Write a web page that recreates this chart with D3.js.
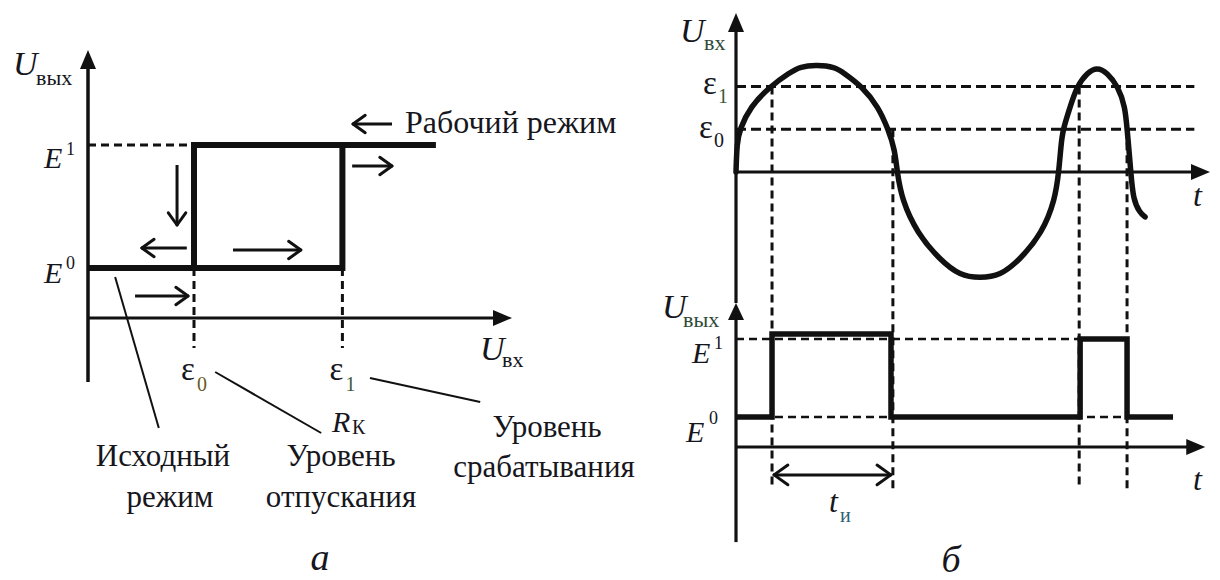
<!DOCTYPE html>
<html>
<head>
<meta charset="utf-8">
<script src="https://cdn.jsdelivr.net/npm/d3@7"></script>
<style>
  html, body { margin: 0; background: #fff; }
  svg { display: block; }
</style>
</head>
<body>
<svg id="fig" width="1220" height="580"></svg>
<script>
// ---------- Panel а: relay (hysteresis) characteristic ----------
// input thresholds ε0 (release) and ε1 (operate), arbitrary input units
const thresholdNames = ["0", "1"];
const thresholdValues = [25, 60];
// output levels E0 and E1
const levelNames = ["0", "1"];
const levelValues = [1, 3.46];
// right end of the upper branch
const upperBranchEnd = 82;
// direction arrows along the loop: [x1, y1, x2, y2]
const motionArrows = [
  [21, 3.06, 21, 1.86],
  [23.3, 1.4, 12.7, 1.4],
  [34.2, 1.36, 50.2, 1.36],
  [11.1, 0.44, 23.6, 0.44],
  [62.3, 3.04, 71.7, 3.04],
  [71.7, 3.88, 62.5, 3.88]
];
// callout leaders to the captions
const calloutLines = [
  [6.4, 0.82, 16.7, -2.2],
  [30, -1.08, 55, -2.3],
  [66.5, -1.2, 92.5, -1.68]
];

// ---------- Panel б: input signal and output pulses ----------
const waveT = [0, 0.02, 0.08, 0.30, 0.72, 1.14, 1.35, 1.71, 2.09, 2.26, 2.66, 3.00, 3.21, 3.35, 3.40,
               3.50, 3.82, 4.30, 4.73, 5.15, 5.57, 5.99, 6.46, 6.73, 6.81,
               6.86, 6.90, 7.05, 7.19, 7.41, 7.62, 7.83, 8.06, 8.21, 8.25, 8.29, 8.33,
               8.38, 8.52, 8.63];
const waveU = [0, 0.27, 0.40, 0.61, 0.80, 0.93, 0.985, 1.00, 0.98, 0.93, 0.80, 0.61, 0.40, 0.21, 0,
               -0.26, -0.57, -0.82, -0.97, -0.99, -0.97, -0.82, -0.57, -0.26, 0,
               0.27, 0.40, 0.61, 0.80, 0.93, 0.98, 0.93, 0.80, 0.61, 0.40, 0.21, 0,
               -0.26, -0.38, -0.42];
const epsNames = ["0", "1"];
const epsValues = [0.40, 0.80];
// switching instants and the threshold that triggers each
const switchTimes = [0.76, 3.31, 7.24, 8.25];
const switchLevel = [1, 0, 1, 0];      // index into epsValues
// output signal (step polyline)
const outT = [0, 0.76, 0.76, 3.27, 3.27, 7.26, 7.26, 8.25, 8.25, 9.22];
const outV = [1, 1, 3.77, 3.77, 1, 1, 3.6, 3.6, 1, 1];
const outLevelNames = ["0", "1"];
const outLevelValues = [1, 3.6];

const INK = "#111";
const FONT = "'Liberation Serif', Tinos, 'DejaVu Serif', 'Noto Serif', 'Times New Roman', serif";
const svg = d3.select("#fig");

// ---------- helpers ----------
function filledArrow(g, x, y, dir, len, half) {
  let p;
  if (dir === "up") p = [[x, y], [x - half, y + len], [x + half, y + len]];
  else p = [[x, y], [x - len, y - half], [x - len, y + half]];
  g.append("path").attr("d", "M" + p.map(q => q.join(",")).join("L") + "Z").attr("fill", INK);
}
function openHead(g, x1, y1, x2, y2, len, ang, w) {
  const a = Math.atan2(y2 - y1, x2 - x1);
  [ang, -ang].forEach(s => {
    g.append("line")
      .attr("x1", x2).attr("y1", y2)
      .attr("x2", x2 - len * Math.cos(a + s)).attr("y2", y2 - len * Math.sin(a + s))
      .attr("stroke", INK).attr("stroke-width", w).attr("stroke-linecap", "round");
  });
}
function openArrow(g, x1, y1, x2, y2, w) {
  g.append("line").attr("x1", x1).attr("y1", y1).attr("x2", x2).attr("y2", y2)
    .attr("stroke", INK).attr("stroke-width", w);
  openHead(g, x1, y1, x2, y2, 15, 0.62, w);
}
function txt(g, x, y, s, size, italic, anchor) {
  return g.append("text").attr("x", x).attr("y", y).text(s)
    .attr("font-family", FONT)
    .attr("font-size", size)
    .attr("font-style", italic ? "italic" : "normal")
    .attr("fill", "#16161c")
    .attr("text-anchor", anchor || "start");
}

// ================= Panel а =================
const xA = d3.scaleLinear().domain([0, 100]).range([88, 512]);
const yA = d3.scaleLinear().domain([0, 1]).range([318, 268]);
const gA = svg.append("g");

// axes
gA.append("line").attr("x1", xA(0)).attr("x2", xA(0))
  .attr("y1", yA(-1.28)).attr("y2", yA(5.0)).attr("stroke", INK).attr("stroke-width", 3.5);
filledArrow(gA, xA(0), yA(5.36), "up", 19, 8);
gA.append("line").attr("x1", xA(0)).attr("x2", xA(96))
  .attr("y1", yA(0)).attr("y2", yA(0)).attr("stroke", INK).attr("stroke-width", 3);
filledArrow(gA, xA(100), yA(0), "right", 19, 8);

// dashed guides
gA.append("line").attr("x1", xA(0)).attr("x2", xA(thresholdValues[0]))
  .attr("y1", yA(levelValues[1])).attr("y2", yA(levelValues[1]))
  .attr("stroke", INK).attr("stroke-width", 3).attr("stroke-dasharray", "8,5");
thresholdValues.forEach(v => {
  gA.append("line").attr("x1", xA(v)).attr("x2", xA(v))
    .attr("y1", yA(levelValues[0])).attr("y2", yA(-0.6))
    .attr("stroke", INK).attr("stroke-width", 3).attr("stroke-dasharray", "8,5");
});

// hysteresis loop
const lineA = d3.line().x(d => xA(d[0])).y(d => yA(d[1]));
const riseBranch = [[0, levelValues[0]], [thresholdValues[1], levelValues[0]],
                    [thresholdValues[1], levelValues[1]], [upperBranchEnd, levelValues[1]]];
const fallBranch = [[upperBranchEnd, levelValues[1]], [thresholdValues[0], levelValues[1]],
                    [thresholdValues[0], levelValues[0]], [0, levelValues[0]]];
[riseBranch, fallBranch].forEach(b => {
  gA.append("path").attr("d", lineA(b)).attr("fill", "none")
    .attr("stroke", INK).attr("stroke-width", 6).attr("stroke-linejoin", "miter");
});

// motion arrows
motionArrows.forEach(a => openArrow(gA, xA(a[0]), yA(a[1]), xA(a[2]), yA(a[3]), 3));

// callout leaders
calloutLines.forEach(c => {
  gA.append("line").attr("x1", xA(c[0])).attr("y1", yA(c[1]))
    .attr("x2", xA(c[2])).attr("y2", yA(c[3])).attr("stroke", INK).attr("stroke-width", 2);
});

// axis titles
txt(gA, 13, 75, "U", 34, true);
txt(gA, 36, 85, "вых", 22, false);
txt(gA, 480, 360, "U", 34, true);
txt(gA, 502, 367, "вх", 22, false);

// level labels
txt(gA, 44, yA(levelValues[1]) + 23, "E", 30, true);
txt(gA, 66, yA(levelValues[1]) + 10, levelNames[1], 18, false);
txt(gA, 44, yA(levelValues[0]) + 15, "E", 30, true);
txt(gA, 66, yA(levelValues[0]) + 1, levelNames[0], 18, false);

// threshold labels
thresholdValues.forEach((v, i) => {
  txt(gA, xA(v) - 13, 380, "ε", 33, false);
  txt(gA, xA(v) + 3, 391, thresholdNames[i], 20, false).attr("fill", i ? "#3a5a3a" : "#6a5a20");
});
txt(gA, 332, 432, "R", 30, true);
txt(gA, 352, 434, "К", 20, false);

// captions
txt(gA, 405, 133, "Рабочий режим", 32, false);
txt(gA, 163, 466, "Исходный", 31, false, "middle");
txt(gA, 170, 507, "режим", 31, false, "middle");
txt(gA, 341, 466, "Уровень", 31, false, "middle");
txt(gA, 341, 507, "отпускания", 31, false, "middle");
txt(gA, 547, 437, "Уровень", 31, false, "middle");
txt(gA, 544, 477, "срабатывания", 31, false, "middle");
txt(gA, 320, 570, "а", 38, true, "middle");

// ================= Panel б =================
const tB = d3.scaleLinear().domain([0, 10]).range([736, 1210]);
const uB = d3.scaleLinear().domain([0, 1]).range([172, 65]);
const vB = d3.scaleLinear().domain([0, 1]).range([447, 417]);
const gB = svg.append("g");

// vertical axes
gB.append("line").attr("x1", tB(0)).attr("x2", tB(0))
  .attr("y1", uB(1.32)).attr("y2", vB(4.8)).attr("stroke", INK).attr("stroke-width", 3.2);
filledArrow(gB, tB(0), uB(1.486), "up", 19, 8);
gB.append("line").attr("x1", tB(0)).attr("x2", tB(0))
  .attr("y1", vB(4.3)).attr("y2", vB(-3.17)).attr("stroke", INK).attr("stroke-width", 3.2);
filledArrow(gB, tB(0), vB(4.8), "up", 17, 8);

// time axes
gB.append("line").attr("x1", tB(0)).attr("x2", tB(9.65))
  .attr("y1", uB(0)).attr("y2", uB(0)).attr("stroke", INK).attr("stroke-width", 3);
filledArrow(gB, tB(10), uB(0), "right", 19, 8);
gB.append("line").attr("x1", tB(0)).attr("x2", tB(9.55))
  .attr("y1", vB(0)).attr("y2", vB(0)).attr("stroke", INK).attr("stroke-width", 3);
filledArrow(gB, tB(9.9), vB(0), "right", 19, 8);

// threshold dashed lines
epsValues.forEach(v => {
  gB.append("line").attr("x1", tB(0)).attr("x2", tB(9.67))
    .attr("y1", uB(v)).attr("y2", uB(v))
    .attr("stroke", INK).attr("stroke-width", 3).attr("stroke-dasharray", "10,5");
});
// output level dashed lines
outLevelValues.forEach(v => {
  gB.append("line").attr("x1", tB(0)).attr("x2", tB(switchTimes[3]))
    .attr("y1", vB(v)).attr("y2", vB(v))
    .attr("stroke", INK).attr("stroke-width", 2.6).attr("stroke-dasharray", "8,5");
});
// switching instants
switchTimes.forEach((t, i) => {
  gB.append("line").attr("x1", tB(t)).attr("x2", tB(t))
    .attr("y1", uB(epsValues[switchLevel[i]])).attr("y2", vB(i === 1 ? -1.53 : -1.4))
    .attr("stroke", INK).attr("stroke-width", 3).attr("stroke-dasharray", "8,5");
});

// input wave (smoothed through the read points)
const waveLine = d3.line().x(d => tB(d[0])).y(d => uB(d[1])).curve(d3.curveBasis);
gB.append("path").attr("d", waveLine(waveT.map((t, i) => [t, waveU[i]])))
  .attr("fill", "none").attr("stroke", INK).attr("stroke-width", 5.5).attr("stroke-linecap", "round");

// output pulses
const outLine = d3.line().x(d => tB(d[0])).y(d => vB(d[1]));
gB.append("path").attr("d", outLine(outT.map((t, i) => [t, outV[i]])))
  .attr("fill", "none").attr("stroke", INK).attr("stroke-width", 5.5).attr("stroke-linejoin", "miter");

// pulse width
{
  const y = vB(-0.93), xa = tB(switchTimes[0]) + 2, xb = tB(switchTimes[1]) - 2;
  gB.append("line").attr("x1", xa).attr("x2", xb).attr("y1", y).attr("y2", y)
    .attr("stroke", INK).attr("stroke-width", 3);
  openHead(gB, xb, y, xa, y, 17, 0.62, 3);
  openHead(gB, xa, y, xb, y, 17, 0.62, 3);
}

// labels
txt(gB, 680, 42, "U", 34, true);
txt(gB, 704, 50, "вх", 22, false).attr("fill", "#2f4a38");
txt(gB, 703, uB(epsValues[1]) + 8, "ε", 33, false);
txt(gB, 718, uB(epsValues[1]) + 17, epsNames[1], 20, false).attr("fill", "#3a5a3a");
txt(gB, 699, uB(epsValues[0]) + 9, "ε", 33, false);
txt(gB, 714, uB(epsValues[0]) + 18, epsNames[0], 20, false);
txt(gB, 1193, 206, "t", 32, true);

txt(gB, 662, 318, "U", 34, true);
txt(gB, 683, 327, "вых", 22, false).attr("fill", "#2f4a38");
txt(gB, 692, vB(outLevelValues[1]) + 24, "E", 30, true);
txt(gB, 714, vB(outLevelValues[1]) + 10, outLevelNames[1], 18, false);
txt(gB, 686, vB(outLevelValues[0]) + 25, "E", 30, true);
txt(gB, 709, vB(outLevelValues[0]) + 7, outLevelNames[0], 18, false);
txt(gB, 1193, 490, "t", 32, true);
txt(gB, 829, 512, "t", 32, true);
txt(gB, 840, 522, "и", 20, false).attr("fill", "#2a5f78");
txt(gB, 951, 572, "б", 38, true, "middle");
</script>
</body>
</html>
